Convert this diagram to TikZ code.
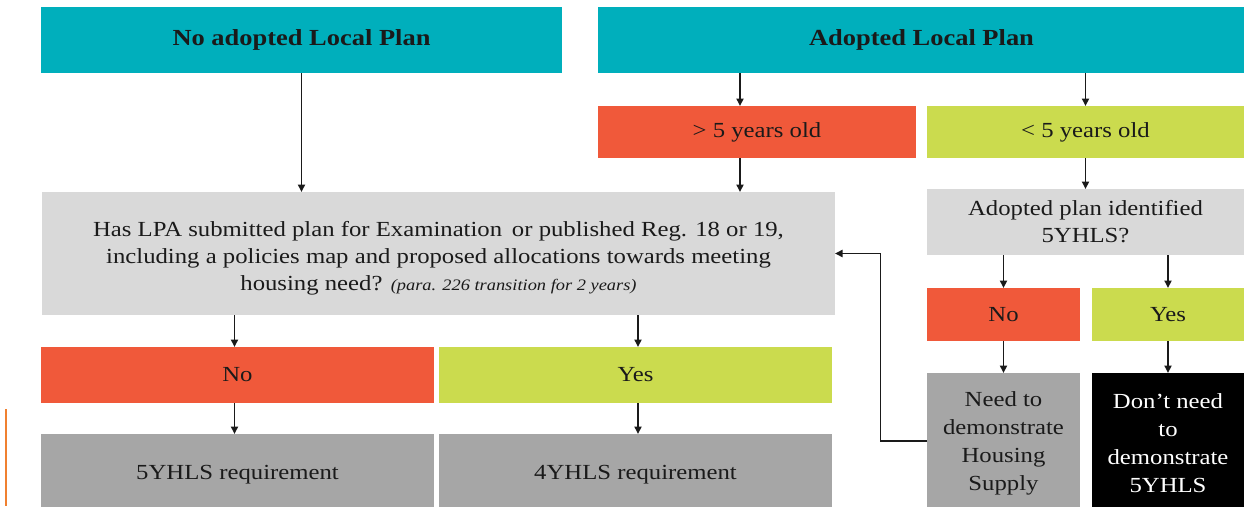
\documentclass[tikz,border=0pt]{standalone}
\usepackage{fontspec}
\setmainfont{Liberation Serif}[FakeStretch=1.15]
\usetikzlibrary{arrows.meta}
\definecolor{tealc}{HTML}{00AFBC}
\definecolor{orangec}{HTML}{F0593A}
\definecolor{greenc}{HTML}{CBDB4E}
\definecolor{lgray}{HTML}{D9D9D9}
\definecolor{dgray}{HTML}{A6A6A6}
\definecolor{txt}{HTML}{1A1A1A}
\definecolor{strayorange}{HTML}{F08030}
\begin{document}
\begin{tikzpicture}[x=1pt,y=-1pt,
  box/.style={rectangle, inner sep=0pt, outer sep=0pt, align=center, text=txt,
    font=\fontsize{21.5}{27}\selectfont},
  head/.style={box, fill=tealc, font=\bfseries\fontsize{23}{28}\selectfont},
  redbox/.style={box, fill=orangec},
  greenbox/.style={box, fill=greenc},
  qbox/.style={box, fill=lgray},
  resbox/.style={box, fill=dgray},
  tallbox/.style={font=\fontsize{21.5}{28}\selectfont},
  blackbox/.style={box, fill=black, text=white},
  arr/.style={draw=txt, line width=1.9pt, -{Triangle[length=7.5pt,width=7pt]}}]
\useasboundingbox (0,0) rectangle (1244,506);
\begin{scope}
\clip (0,0) rectangle (1244,506);
% top row
\node[head, minimum width=521pt, minimum height=66pt] (nolp) at (301.5,40) {No adopted Local Plan};
\node[head, minimum width=647pt, minimum height=66pt] (alp) at (921.5,40) {Adopted Local Plan};
% age
\node[redbox, minimum width=318pt, minimum height=52pt] (old) at (757,132) {> 5 years old};
\node[greenbox, minimum width=317pt, minimum height=52pt] (young) at (1085.5,132) {< 5 years old};
% question
\node[qbox, minimum width=793pt, minimum height=123pt] (q) at (438.5,253.5)
  {\rule{0pt}{24pt}Has LPA submitted plan for Examination\, or published Reg. 18 or 19,\\
   including a policies map and proposed allocations towards meeting\\
   housing need? {\itshape\fontsize{16}{27}\selectfont (para. 226 transition for 2 years)}};
\node[qbox, minimum width=317pt, minimum height=66pt] (ident) at (1085.5,222)
  {Adopted plan identified\\ 5YHLS?};
% answers left
\node[redbox, minimum width=393pt, minimum height=56pt] (no1) at (237.5,375) {No};
\node[greenbox, minimum width=393pt, minimum height=56pt] (yes1) at (635.5,375) {Yes};
\node[resbox, minimum width=393pt, minimum height=74pt] (req5) at (237.5,471) {\rule{0pt}{22pt}5YHLS requirement};
\node[resbox, minimum width=393pt, minimum height=74pt] (req4) at (635.5,471) {\rule{0pt}{22pt}4YHLS requirement};
% answers right
\node[redbox, minimum width=153pt, minimum height=53pt] (no2) at (1003.5,314.5) {No};
\node[greenbox, minimum width=152pt, minimum height=53pt] (yes2) at (1168,314.5) {Yes};
\node[resbox, tallbox, minimum width=153pt, minimum height=136pt] (need) at (1003.5,441)
  {\rule{0pt}{20pt}Need to\\ demonstrate\\ Housing\\ Supply};
\node[blackbox, tallbox, minimum width=152pt, minimum height=136pt] (dont) at (1168,441)
  {\rule{0pt}{20pt}Don’t need\\ to\\ demonstrate\\ 5YHLS};
\end{scope}
% stray mark at left edge
\draw[strayorange, line width=2pt] (6,409) -- (6,506);
% connectors
\coordinate (xa) at (740,0);
\coordinate (xc) at (234.5,0);
\coordinate (xd) at (638,0);
\coordinate (xf) at (880.5,0);
\draw[arr] (nolp.south) -- (nolp.south |- q.north);
\draw[arr] (xa |- alp.south) -- (xa |- old.north);
\draw[arr] (xa |- old.south) -- (xa |- q.north);
\draw[arr] (alp.south -| young.north) -- (young.north);
\draw[arr] (young.south) -- (ident.north);
\draw[arr] (xc |- q.south) -- (xc |- no1.north);
\draw[arr] (xc |- no1.south) -- (xc |- req5.north);
\draw[arr] (xd |- q.south) -- (xd |- yes1.north);
\draw[arr] (xd |- yes1.south) -- (xd |- req4.north);
\draw[arr] (ident.south -| no2.north) -- (no2.north);
\draw[arr] (no2.south) -- (need.north);
\draw[arr] (ident.south -| yes2.north) -- (yes2.north);
\draw[arr] (yes2.south) -- (dont.north);
\draw[arr] (need.west) -- (xf |- need.west) -- (xf |- q.east) -- (q.east);
\end{tikzpicture}
\end{document}
